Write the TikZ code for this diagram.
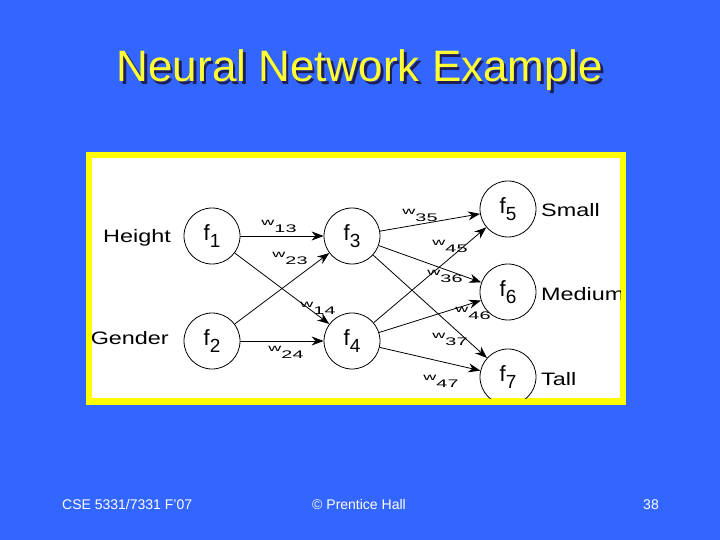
\documentclass[tikz,border=0pt]{standalone}
\usepackage{fontspec}
\setmainfont{Liberation Sans}
\newfontfamily\figfont[FakeStretch=1.3]{Liberation Sans}
\newfontfamily\wfont[FakeStretch=1.8]{Liberation Sans}
\usetikzlibrary{arrows.meta}
\definecolor{slideblue}{RGB}{51,102,255}
\definecolor{titleyellow}{RGB}{255,255,51}
\definecolor{titleshade}{RGB}{30,30,90}
\definecolor{frameyellow}{RGB}{255,255,0}
\newcommand{\fsub}[1]{{\fontsize{22}{22}\selectfont f}\raisebox{-7pt}{\fontsize{19}{19}\selectfont #1}}
\newcommand{\wsub}[1]{{\wfont\fontsize{10}{10}\selectfont w}\raisebox{-7pt}{\wfont\fontsize{11}{11}\selectfont #1}}
\begin{document}
\begin{tikzpicture}
		[x=1pt,y=-1pt,
		neuron/.style={circle,draw=black,line width=0.8pt,
inner sep=0pt,minimum size=56pt},
		tag/.style={inner sep=0pt,font=\figfont\fontsize{18}{18}\selectfont},
		weight/.style={inner sep=0pt},
		title/.style={inner sep=0pt,font=\fontsize{44}{44}\selectfont},
		footer/.style={inner sep=0pt,text=white,font=\fontsize{14}{14}\selectfont},
		link/.style={{Stealth[length=12pt,width=9pt]}-,line width=0.8pt}]
		\useasboundingbox (0,0) rectangle (720,540);
		\fill[slideblue] (0,0) rectangle (720,540);
		% title with its shadow
		\node at (362.5,84.5) (shade) [title,anchor=base,text=titleshade] {Neural Network Example};
		\node at (360,82) (title) [title,anchor=base,text=titleyellow] {Neural Network Example};
		% yellow frame
		\fill[frameyellow] (86,152) rectangle (626,405);
		\fill[white] (92,158) rectangle (620,398);
		\begin{scope}
		\clip (92,158) rectangle (620,398);
		\node at (212,236) (1) [neuron] {\fsub{1}};
		\node at (212,341) (2) [neuron] {\fsub{2}};
		\node at (352,236) (3) [neuron] {\fsub{3}}
			edge [link] (1)
			edge [link] (2);
		\node at (352,341) (4) [neuron] {\fsub{4}}
			edge [link] (1)
			edge [link] (2);
		\node at (508,209) (5) [neuron] {\fsub{5}}
			edge [link] (3)
			edge [link] (4);
		\node at (508,292) (6) [neuron] {\fsub{6}}
			edge [link] (3)
			edge [link] (4);
		\node at (508,377) (7) [neuron] {\fsub{7}}
			edge [link] (3)
			edge [link] (4);
		% inputs and outputs
		\node at (171,243) (height) [tag,anchor=base east] {Height};
		\node at (169,344) (gender) [tag,anchor=base east] {Gender};
		\node at (541,216) (small) [tag,anchor=base west] {Small};
		\node at (541,300) (medium) [tag,anchor=base west] {Medium};
		\node at (541,385) (tall) [tag,anchor=base west] {Tall};
		% weights
		\node at (279,226) (w13) [weight] {\wsub{13}};
		\node at (290,258) (w23) [weight] {\wsub{23}};
		\node at (318,308) (w14) [weight] {\wsub{14}};
		\node at (286,352) (w24) [weight] {\wsub{24}};
		\node at (420,215) (w35) [weight] {\wsub{35}};
		\node at (450,246) (w45) [weight] {\wsub{45}};
		\node at (445,276) (w36) [weight] {\wsub{36}};
		\node at (473,313) (w46) [weight] {\wsub{46}};
		\node at (450,339) (w37) [weight] {\wsub{37}};
		\node at (441,381) (w47) [weight] {\wsub{47}};
		\end{scope}
		% footer
		\node at (62,509) (course) [footer,anchor=base west] {CSE 5331/7331 F'07};
		\node at (359,509) (publisher) [footer,anchor=base] {© Prentice Hall};
		\node at (651,509) (page) [footer,anchor=base] {38};
	\end{tikzpicture}
\end{document}
